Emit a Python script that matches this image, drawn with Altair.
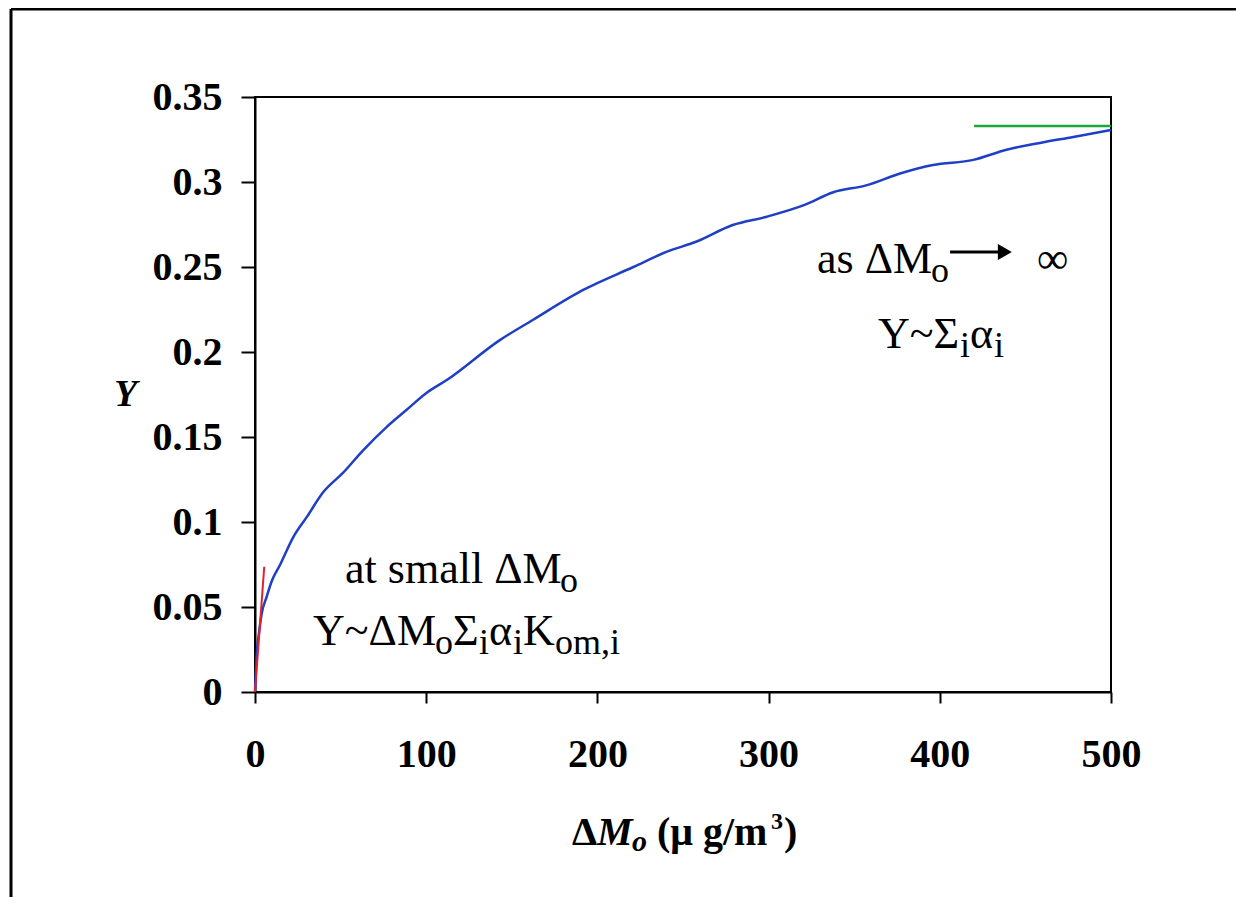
import altair as alt
import pandas as pd

# ---- data ----
blue_x = [0, 1, 2.5, 3.9, 6.8, 9.7, 14.6, 22.3, 30.3, 39.9, 51.5, 63, 77, 88.6, 100.3, 112,
          143, 162.5, 191.7, 221, 240.6, 258, 279, 299, 321, 337.8, 357, 376.8, 396, 419.6,
          439, 458.5, 478, 500]
blue_y = [0, 0.022, 0.036, 0.046, 0.056, 0.065, 0.0747, 0.091, 0.103, 0.1176, 0.129, 0.142,
          0.156, 0.166, 0.176, 0.1835, 0.207, 0.219, 0.2365, 0.25, 0.259, 0.265, 0.2747,
          0.2796, 0.2865, 0.294, 0.298, 0.305, 0.31, 0.313, 0.319, 0.323, 0.3265, 0.3306]
red_x = [0, 5.4]
red_y = [0, 0.0737]
green_x = [420, 500]
green_y = [0.333, 0.333]

x_ticks = [0, 100, 200, 300, 400, 500]
y_ticks = [0, 0.05, 0.1, 0.15, 0.2, 0.25, 0.3, 0.35]

FONT = "Liberation Serif"
W, H = 856, 595
PAD = {"left": 247, "top": 89, "right": 125, "bottom": 205}

xs = alt.Scale(domain=[0, 500], nice=False, zero=False)
ys = alt.Scale(domain=[0, 0.35], nice=False, zero=False)

x_axis = alt.Axis(values=x_ticks, format="d", title=None, grid=False,
                  labelFont=FONT, labelFontWeight="bold", labelFontSize=40, labelColor="black",
                  tickColor="black", tickWidth=2, tickSize=11, domainColor="black", domainWidth=2,
                  labelPadding=31, labelFlush=False)
y_axis = alt.Axis(values=y_ticks, format=".2~f", grid=False,
                  labelFont=FONT, labelFontWeight="bold", labelFontSize=40, labelColor="black",
                  tickColor="black", tickWidth=2, tickSize=14, domainColor="black", domainWidth=2,
                  labelPadding=19, labelFlush=False,
                  title="Y", titleFont=FONT, titleFontWeight="bold", titleFontStyle="italic",
                  titleFontSize=38, titleColor="black", titleAngle=0, titleX=-130, titleY=297,
                  titleAlign="center", titleBaseline="middle")


def X(field):
    return alt.X(field, scale=xs, axis=x_axis)


def Y(field):
    return alt.Y(field, scale=ys, axis=y_axis)


def line_layer(xv, yv, color, width, interp="linear"):
    df = pd.DataFrame({"x": xv, "y": yv})
    return alt.Chart(df).mark_line(color=color, strokeWidth=width, interpolate=interp).encode(
        x=X("x:Q"), y=Y("y:Q"))


dummy = pd.DataFrame({"d": [0]})


def piece(text, x, y, dx=0, dy=0, size=44, style="normal", weight="normal"):
    return alt.Chart(dummy).mark_text(
        text=text, font=FONT, fontSize=size, fontStyle=style, fontWeight=weight,
        align="left", baseline="alphabetic", dx=dx, dy=dy, color="black"
    ).encode(x=alt.datum(x, scale=xs, axis=x_axis), y=alt.datum(y, scale=ys, axis=y_axis))


def ppiece(text, px, py, size=40, style="normal", weight="bold"):
    return alt.Chart(dummy).mark_text(
        text=text, font=FONT, fontSize=size, fontStyle=style, fontWeight=weight,
        align="left", baseline="alphabetic", color="black"
    ).encode(x=alt.value(px), y=alt.value(py))


SUB = 36
SD = 9
layers = [
    line_layer(blue_x, blue_y, "#1f3fc4", 2.5, "monotone"),
    line_layer(red_x, red_y, "#e3202a", 2),
    line_layer(green_x, green_y, "#1fa83a", 2.5),
]

# annotation: at small ΔMo
layers += [
    piece("at small ΔM", 52.6, 0.0641),
    piece("o", 52.6, 0.0641, dx=215, dy=SD, size=SUB),
    piece("Y~ΔM", 33.9, 0.0276),
    piece("o", 33.9, 0.0276, dx=122, dy=SD, size=SUB),
    piece("Σ", 33.9, 0.0276, dx=140),
    piece("i", 33.9, 0.0276, dx=166, dy=SD, size=SUB),
    piece("α", 33.9, 0.0276, dx=176),
    piece("i", 33.9, 0.0276, dx=200, dy=SD, size=SUB),
    piece("K", 33.9, 0.0276, dx=210),
    piece("om,i", 33.9, 0.0276, dx=242, dy=SD, size=SUB),
]

# annotation: as ΔMo → ∞
layers += [
    piece("as ΔM", 328.3, 0.2465),
    piece("o", 328.3, 0.2465, dx=114, dy=SD, size=SUB),
    piece("∞", 328.3, 0.2465, dx=220),
    piece("Y~Σ", 363.9, 0.2024),
    piece("i", 363.9, 0.2024, dx=82, dy=SD, size=SUB),
    piece("α", 363.9, 0.2024, dx=92),
    piece("i", 363.9, 0.2024, dx=116, dy=SD, size=SUB),
]

arrow_df = pd.DataFrame({"x": [406], "x2": [436], "y": [0.2588]})
layers += [
    alt.Chart(arrow_df).mark_rule(color="black", strokeWidth=3).encode(
        x=X("x:Q"), x2="x2:Q", y=Y("y:Q")),
    alt.Chart(pd.DataFrame({"x": [438], "y": [0.2588]})).mark_point(
        shape="triangle-right", filled=True, color="black", size=260, opacity=1).encode(
        x=X("x:Q"), y=Y("y:Q")),
]

# x-axis title pieces (pixel layout)
TY = 748
layers += [
    ppiece("Δ", 317, TY),
    ppiece("M", 342, TY, style="italic"),
    ppiece("o", 377, TY + 6, size=30, style="italic"),
    ppiece("(μ g/m", 402, TY),
    ppiece("3", 516, TY - 16, size=24),
    ppiece(")", 529, TY),
]

# outer frame
layers += [
    alt.Chart(dummy).mark_rule(color="black", strokeWidth=3).encode(
        x=alt.value(-244), y=alt.value(-88), y2=alt.value(H + PAD["bottom"])),
    alt.Chart(dummy).mark_rule(color="black", strokeWidth=3).encode(
        y=alt.value(-88), x=alt.value(-244), x2=alt.value(W + PAD["right"])),
]

chart = alt.layer(*layers).properties(
    width=W, height=H,
    autosize=alt.AutoSizeParams(type="none"),
    padding=PAD,
    background="white",
).configure_view(stroke="black", strokeWidth=2)

chart.save("out.html", embed_options={"renderer": "svg", "actions": False})
